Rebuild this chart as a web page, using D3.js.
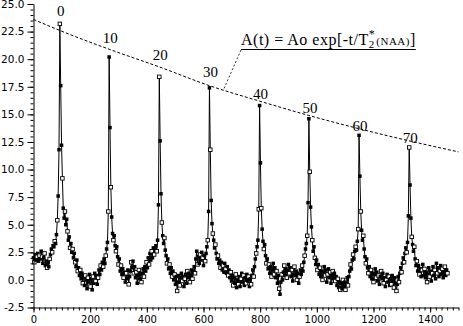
<!DOCTYPE html>
<html>
<head>
<meta charset="utf-8">
<script src="https://cdn.jsdelivr.net/npm/d3@7"></script>
<style>
  body { margin: 0; background: #fff; }
  svg { display: block; }
</style>
</head>
<body>
<div id="chart"></div>
<script>
// sampled echo train, one value every `sampleStep` time units starting at t = 0
const sampleStep = 3;
const signal = [
  2.0, 1.6, 2.3, 1.8, 2.1, 2.4, 1.7, 2.2, 1.9, 2.6,
  2.1, 1.5, 2.0, 2.4, 1.3, 1.7, 1.1, 1.6, 1.2, 1.9,
  2.3, 2.8, 2.5, 3.1, 3.0, 3.5, 3.3, 4.1, 5.4, 7.6,
  11.8, 23.2, 17.6, 12.2, 9.2, 6.5, 5.6, 6.2, 5.0, 5.5,
  4.4, 3.6, 3.9, 2.9, 3.3, 2.5, 2.8, 2.0, 2.4, 1.6,
  1.2, 1.8, 0.8, 1.1, 0.4, 0.9, 0.1, 0.6, -0.3, 0.3,
  -0.5, 0.4, 0.0, -0.8, 0.2, -0.2, 0.5, -0.6, 0.1, -0.9,
  0.3, -0.3, 0.6, -0.1, 0.4, -0.4, 0.2, 0.9, 0.5, 1.3,
  0.9, 1.6, 1.2, 1.9, 1.5, 2.2, 2.8, 3.4, 6.2, 20.2,
  13.8, 8.4, 5.7, 4.2, 3.6, 4.0, 3.1, 2.6, 3.0, 2.1,
  1.4, 1.9, 0.8, 1.3, 0.5, 1.0, 0.2, 0.7, -0.2, 0.6,
  0.1, 0.9, -0.4, 0.3, 0.8, 1.6, 1.1, 1.7, 0.6, 1.2,
  0.2, 0.7, -0.3, 0.4, 0.9, 0.1, 0.6, -0.2, 0.5, 1.0,
  0.3, 1.2, 0.8, 1.6, 1.1, 2.0, 1.4, 2.4, 1.8, 2.6,
  2.0, 2.9, 2.3, 2.7, 3.1, 2.6, 3.6, 6.8, 18.4, 12.6,
  7.8, 5.2, 4.0, 3.3, 3.8, 2.7, 2.2, 1.5, 1.9, 1.0,
  1.4, 0.6, 1.1, 0.3, 0.8, 0.0, 0.5, -0.4, 0.3, -1.0,
  -0.2, 0.4, -0.5, 0.2, 0.6, -0.1, 0.3, -0.6, 0.1, 0.5,
  -0.3, 0.8, 0.2, 0.6, -0.2, 0.4, 0.9, 0.1, 0.7, 1.2,
  0.6, 1.9, 2.6, 1.4, 2.1, 1.5, 2.3, 1.8, 2.5, 2.0,
  1.3, 2.2, 1.7, 2.4, 3.0, 3.6, 6.2, 17.4, 11.8, 7.2,
  5.1, 4.2, 3.6, 2.9, 3.2, 2.4, 1.9, 2.2, 1.5, 1.8,
  1.1, 1.6, 0.9, 1.3, 0.7, 1.5, 1.0, 0.6, 1.2, 0.4,
  0.9, 0.2, 0.7, -0.1, 0.4, -0.5, 0.2, -0.3, 0.5, -0.7,
  0.0, -0.4, 0.3, -0.6, 0.1, 0.6, -0.2, 0.4, -0.5, 0.2,
  -0.3, 0.5, -0.1, 0.3, -0.6, 0.1, -0.4, 0.4, 0.9, 0.3,
  1.2, 1.9, 2.4, 3.0, 3.6, 6.4, 15.8, 10.6, 6.5, 4.6,
  3.5, 2.8, 3.2, 2.2, 1.5, 1.9, 1.0, 1.4, 0.6, 1.2,
  0.3, 0.9, 1.5, 0.5, 1.1, 0.2, 0.8, -0.3, 0.4, -0.8,
  -1.3, -0.2, 0.5, 0.0, 0.7, 1.3, 0.4, 1.0, 0.2, 0.8,
  1.4, 0.6, 1.1, 0.3, 0.9, -0.1, 0.5, 1.2, 0.4, 0.8,
  0.0, 0.6, -0.3, 0.3, 0.9, 0.5, 1.3, 0.8, 1.6, 2.2,
  2.8, 3.3, 4.0, 7.0, 14.6, 9.8, 6.6, 4.8, 3.6, 2.6,
  3.0, 2.0, 1.4, 1.8, 0.9, 1.4, 0.5, 1.1, 0.3, 0.8,
  0.0, 0.6, 1.2, 0.4, 0.9, -0.2, 0.5, 1.0, 0.2, 0.7,
  -0.3, 0.4, 0.8, 0.1, 0.6, -0.1, 0.3, -0.5, 0.1, -0.7,
  -0.2, -0.9, -0.3, -0.8, 0.0, -0.6, -0.2, -0.9, -0.4, 0.2,
  -0.5, 0.3, 0.8, 1.4, 1.0, 1.8, 2.3, 1.9, 2.6, 3.0,
  2.7, 3.5, 4.6, 13.1, 9.4, 6.2, 4.5, 3.6, 4.0, 2.8,
  2.1, 1.5, 1.9, 1.1, 0.6, 1.2, 0.3, 0.9, 0.1, 0.6,
  -0.2, 0.5, 1.0, 0.2, 0.7, -0.1, 0.4, -0.4, 0.3, 0.8,
  0.1, 0.6, -0.3, 0.2, -0.6, 0.0, 0.5, -0.2, 0.3, -0.5,
  0.1, -0.4, 0.4, -0.1, -0.7, 0.2, -0.3, -1.0, -0.4, 0.3,
  -0.2, 0.6, 1.1, 0.7, 1.5, 2.0, 1.6, 2.4, 2.9, 2.5,
  3.4, 5.8, 12.0, 8.6, 5.6, 3.9, 3.2, 2.6, 3.0, 1.9,
  1.3, 1.7, 0.8, 1.3, 0.5, 1.0, 0.3, 0.9, 1.4, 0.4,
  1.0, 0.2, 0.7, -0.2, 0.5, 1.1, 0.3, 0.8, -0.1, 0.6,
  1.2, 0.4, 0.9, 0.1, 1.5, 0.6, 1.1, 0.3, 0.8, 1.3,
  0.5, 1.0, 0.2, 0.7, 1.2, 0.4, 0.9, 0.6
];

// echo numbers and the time of each echo top
const echoNumbers = [0, 10, 20, 30, 40, 50, 60, 70];
const echoTimes = [93, 267, 444, 621, 798, 972, 1149, 1326];

// fitted decay envelope A(t)
const decayTimes = [0, 93, 267, 444, 621, 798, 972, 1149, 1326, 1500];
const decayValues = [23.6, 22.6, 20.9, 19.3, 17.6, 16.2, 14.9, 13.7, 12.6, 11.6];

const xTicks = [0, 200, 400, 600, 800, 1000, 1200, 1400];
const yTicks = [-2.5, 0, 2.5, 5, 7.5, 10, 12.5, 15, 17.5, 20, 22.5, 25];

const width = 463, height = 326;
// label offsets above each echo top (px)
const labelDy = [-8, -14, -17, -11, -7, -6, -4, -4];

const svg = d3.select('#chart').append('svg')
  .attr('width', width).attr('height', height);

const x = d3.scaleLinear().domain([0, 1500]).range([33.5, 458.5]);
const y = d3.scaleLinear().domain([-2.5, 25]).range([307.5, 4]);

// decay envelope
const envLine = d3.line()
  .x((d, i) => x(decayTimes[i])).y(d => y(d))
  .curve(d3.curveMonotoneX);
svg.append('path')
  .attr('d', envLine(decayValues))
  .attr('fill', 'none').attr('stroke', '#000').attr('stroke-width', 1)
  .attr('stroke-dasharray', '3,2');

// signal
const sigLine = d3.line().x((d, i) => x(i * sampleStep)).y(d => y(d));
svg.append('path')
  .attr('d', sigLine(signal))
  .attr('fill', 'none').attr('stroke', '#000').attr('stroke-width', 1);

svg.append('g').selectAll('rect')
  .data(signal)
  .join('rect')
  .attr('x', (d, i) => x(i * sampleStep) - 1.75)
  .attr('y', d => y(d) - 1.75)
  .attr('width', 3.5).attr('height', 3.5)
  .attr('fill', (d, i) => i % 3 === 1 ? '#fff' : '#000')
  .attr('stroke', '#000').attr('stroke-width', (d, i) => i % 3 === 1 ? 0.9 : 0);

// echo labels
svg.append('g').selectAll('text')
  .data(echoNumbers)
  .join('text')
  .attr('x', (d, i) => x(echoTimes[i]) + 1)
  .attr('y', (d, i) => y(signal[Math.round(echoTimes[i] / sampleStep)]) + labelDy[i])
  .attr('text-anchor', 'middle')
  .attr('font-family', '"Liberation Serif", "Times New Roman", serif')
  .attr('font-size', 15)
  .attr('fill', '#000')
  .text(d => d);

// formula annotation
const fx = 241, fy = 45;
const formula = svg.append('text')
  .attr('x', fx).attr('y', fy)
  .attr('font-family', '"Liberation Serif", "Times New Roman", serif')
  .attr('font-size', 16).attr('letter-spacing', 0.5).attr('fill', '#000');
formula.append('tspan').text('A(t) = Ao exp[-t/T');
formula.append('tspan').attr('font-size', 11).attr('dy', 3).text('2');
formula.append('tspan').attr('font-size', 12).attr('dx', -6).attr('dy', -10).text('*');
formula.append('tspan').attr('font-size', 11).attr('dx', 1).attr('dy', 7).text('(NAA)');
formula.append('tspan').text(']');

const fb = formula.node().getBBox();
svg.append('line')
  .attr('x1', fx).attr('x2', fb.x + fb.width)
  .attr('y1', 49.5).attr('y2', 49.5)
  .attr('stroke', '#000').attr('stroke-width', 1);

// leader from the formula to the decay curve
const leadT = 670;
const leadV = 17.2;
svg.append('line')
  .attr('x1', fx).attr('y1', 50)
  .attr('x2', x(leadT)).attr('y2', y(leadV))
  .attr('stroke', '#000').attr('stroke-width', 0.8)
  .attr('stroke-dasharray', '2,2');

// axes
const axisFont = '"DejaVu Sans", Verdana, sans-serif';

const xMinor = svg.append('g')
  .attr('transform', `translate(0,${y(-2.5)})`)
  .call(d3.axisBottom(x).tickValues(d3.range(0, 1501, 20)).tickSize(3).tickSizeOuter(0).tickFormat(''));
xMinor.select('.domain').remove();

const xAxis = svg.append('g')
  .attr('transform', `translate(0,${y(-2.5)})`)
  .call(d3.axisBottom(x).tickValues(xTicks).tickSize(5).tickSizeOuter(0).tickPadding(3)
    .tickFormat(d3.format('d')));
xAxis.selectAll('text').attr('font-family', axisFont).attr('font-size', 10).attr('fill', '#000');

const yMinor = svg.append('g')
  .attr('transform', `translate(${x(0)},0)`)
  .call(d3.axisLeft(y).tickValues(d3.range(-2.5, 25.01, 0.5)).tickSize(3).tickSizeOuter(0).tickFormat(''));
yMinor.select('.domain').remove();

const yAxis = svg.append('g')
  .attr('transform', `translate(${x(0)},0)`)
  .call(d3.axisLeft(y).tickValues(yTicks).tickSize(6).tickSizeOuter(0).tickPadding(3)
    .tickFormat(d => d.toFixed(1)));
yAxis.selectAll('text').attr('font-family', axisFont).attr('font-size', 10.5).attr('fill', '#000');

svg.selectAll('.domain, .tick line').attr('stroke', '#000');
</script>
</body>
</html>
